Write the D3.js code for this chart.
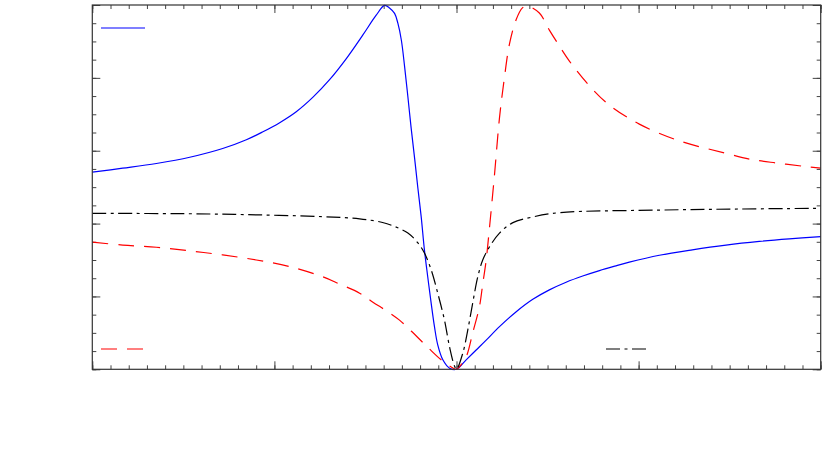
<!DOCTYPE html>
<html>
<head>
<meta charset="utf-8">
<script src="https://cdn.jsdelivr.net/npm/d3@7"></script>
<style>
  body { margin: 0; background: #fff; }
</style>
</head>
<body>
<div id="chart"></div>
<script>
// values (x in [-2, 2], y normalised to [0, 1])
const blueX = [-2.0, -1.833, -1.648, -1.465, -1.284, -1.154, -1.063, -0.971, -0.880, -0.788,
  -0.697, -0.605, -0.514, -0.441, -0.395, -0.368, -0.340, -0.322, -0.303, -0.285,
  -0.267, -0.249, -0.230, -0.212, -0.194, -0.176, -0.158, -0.139, -0.121, -0.103,
  -0.075, -0.038, 0, 0.053, 0.108, 0.163, 0.236, 0.328, 0.419, 0.510,
  0.602, 0.693, 0.785, 0.876, 0.949, 1.114, 1.295, 1.480, 1.663, 1.827, 2.0];
const blueY = [0.541, 0.552, 0.565, 0.582, 0.606, 0.630, 0.652, 0.677, 0.707, 0.747,
  0.795, 0.853, 0.918, 0.972, 0.999, 0.992, 0.977, 0.950, 0.904, 0.831,
  0.748, 0.662, 0.579, 0.497, 0.419, 0.327, 0.254, 0.181, 0.117, 0.067,
  0.026, 0.003, 0, 0.026, 0.053, 0.080, 0.117, 0.158, 0.192, 0.218,
  0.239, 0.256, 0.271, 0.284, 0.294, 0.313, 0.328, 0.341, 0.351, 0.358, 0.364];

const redX = [-2.0, -1.833, -1.648, -1.465, -1.284, -1.099, -0.916, -0.735, -0.642, -0.532,
  -0.461, -0.368, -0.313, -0.249, -0.159, -0.084, -0.022, 0, 0.016, 0.053,
  0.089, 0.126, 0.144, 0.163, 0.181, 0.209, 0.236, 0.263, 0.291, 0.327,
  0.362, 0.390, 0.455, 0.510, 0.554, 0.620, 0.730, 0.840, 1.004, 1.224,
  1.472, 1.609, 1.763, 1.911, 2.0];
const redY = [0.349, 0.341, 0.335, 0.325, 0.314, 0.300, 0.282, 0.254, 0.234, 0.209,
  0.185, 0.155, 0.135, 0.105, 0.061, 0.026, 0.004, 0, 0.007, 0.034,
  0.100, 0.172, 0.234, 0.300, 0.388, 0.536, 0.690, 0.800, 0.893, 0.959,
  0.992, 0.997, 0.978, 0.931, 0.896, 0.846, 0.778, 0.725, 0.673, 0.627,
  0.594, 0.577, 0.566, 0.557, 0.552];

const blackX = [-2.0, -1.465, -1.099, -0.735, -0.532, -0.406, -0.340, -0.267, -0.212, -0.176,
  -0.139, -0.103, -0.066, -0.038, -0.011, 0, 0.035, 0.062, 0.089, 0.117,
  0.144, 0.181, 0.236, 0.307, 0.417, 0.565, 1.114, 1.553, 2.0];
const blackY = [0.428, 0.427, 0.424, 0.419, 0.413, 0.403, 0.392, 0.374, 0.347, 0.319,
  0.273, 0.209, 0.135, 0.061, 0.009, 0, 0.045, 0.108, 0.182, 0.254,
  0.300, 0.336, 0.374, 0.402, 0.418, 0.430, 0.437, 0.440, 0.442];

const xMajor = [-2, -1, 0, 1, 2];
const xMinor = d3.range(-20, 21).map(d => d / 10);
const yMajor = [0, 0.2, 0.4, 0.6, 0.8, 1];
const yMinor = d3.range(0, 21).map(d => d / 20);

const width = 831, height = 454;
const margin = { top: 5, right: 10.3, bottom: 84.7, left: 92.3 };
const w = width - margin.left - margin.right;
const h = height - margin.top - margin.bottom;

let svg = d3.select('#chart')
  .append('svg')
  .attr('width', width)
  .attr('height', height)
  .append('g')
  .attr('transform', 'translate(' + margin.left + ',' + margin.top + ')');

let x = d3.scaleLinear().domain([-2, 2]).range([0, w]);
let y = d3.scaleLinear().domain([0, 1]).range([h, 0]);

// inward ticks on all four sides
const tickColor = '#444';
function drawTicks(axis, values, size, transform) {
  let g = svg.append('g')
    .attr('transform', transform)
    .call(axis.tickValues(values).tickSize(size).tickSizeOuter(0).tickFormat(''));
  g.select('.domain').remove();
  g.selectAll('line').attr('stroke', tickColor);
}
drawTicks(d3.axisBottom(x), xMinor, -4, 'translate(0,' + h + ')');
drawTicks(d3.axisBottom(x), xMajor, -8, 'translate(0,' + h + ')');
drawTicks(d3.axisTop(x), xMinor, -4, 'translate(0,0)');
drawTicks(d3.axisTop(x), xMajor, -8, 'translate(0,0)');
drawTicks(d3.axisLeft(y), yMinor, -4, 'translate(0,0)');
drawTicks(d3.axisLeft(y), yMajor, -8, 'translate(0,0)');
drawTicks(d3.axisRight(y), yMinor, -4, 'translate(' + w + ',0)');
drawTicks(d3.axisRight(y), yMajor, -8, 'translate(' + w + ',0)');

let line = d3.line()
  .x(d => x(d[0]))
  .y(d => y(d[1]))
  .curve(d3.curveCatmullRom.alpha(0.5));

const series = [
  { xs: blueX, ys: blueY, color: '#0000ff', dash: null },
  { xs: redX, ys: redY, color: '#ff0000', dash: '16,10' },
  { xs: blackX, ys: blackY, color: '#000000', dash: '14,4.5,3,4.5' }
];

series.forEach(s => {
  svg.append('path')
    .attr('d', line(d3.zip(s.xs, s.ys)))
    .attr('fill', 'none')
    .attr('stroke', s.color)
    .attr('stroke-width', 1.2)
    .attr('stroke-dasharray', s.dash);
});

// frame
svg.append('rect')
  .attr('width', w)
  .attr('height', h)
  .attr('fill', 'none')
  .attr('stroke', '#333')
  .attr('stroke-width', 1.2);

// legend samples (labels were empty in the original)
const legend = [
  { x1: 101, x2: 145, y: 28, color: '#0000ff', dash: null },
  { x1: 101, x2: 145, y: 349, color: '#ff0000', dash: '16,10' },
  { x1: 606, x2: 646, y: 349, color: '#000000', dash: '14,4.5,3,4.5' }
];
legend.forEach(l => {
  svg.append('line')
    .attr('x1', l.x1 - margin.left)
    .attr('x2', l.x2 - margin.left)
    .attr('y1', l.y - margin.top)
    .attr('y2', l.y - margin.top)
    .attr('stroke', l.color)
    .attr('stroke-width', 1.2)
    .attr('stroke-dasharray', l.dash);
});
</script>
</body>
</html>
